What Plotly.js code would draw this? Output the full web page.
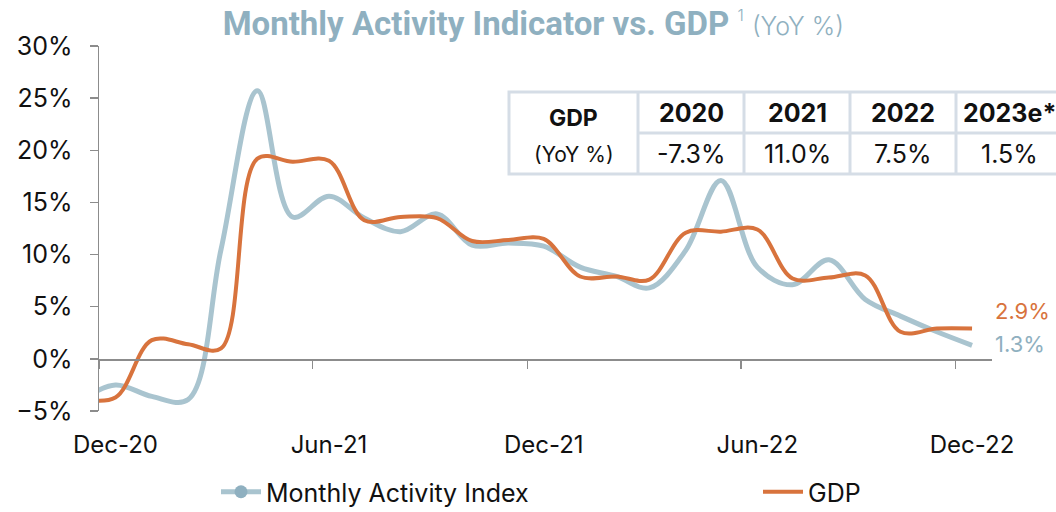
<!DOCTYPE html>
<html>
<head>
<meta charset="utf-8">
<script src="https://cdn.plot.ly/plotly-3.0.1.min.js"></script>
<style>
  html, body { margin: 0; padding: 0; background: #fff; }
  #chart { width: 1056px; height: 512px; }
</style>
</head>
<body>
<div id="chart"></div>
<script>
// ---- Data ----
var months = ['2020-11-15','2020-12-15','2021-01-15','2021-02-15','2021-03-15','2021-04-15','2021-05-15',
  '2021-06-15','2021-07-15','2021-08-15','2021-09-15','2021-10-15','2021-11-15','2021-12-15',
  '2022-01-15','2022-02-15','2022-03-15','2022-04-15','2022-05-15','2022-06-15','2022-07-15',
  '2022-08-15','2022-09-15','2022-10-15','2022-11-15','2022-12-15'];
var activityIndex = [-4.0,-2.5,-3.6,-3.9,10.5,25.7,13.6,15.6,13.5,12.2,13.9,10.9,11.1,10.8,
  8.8,7.9,6.8,10.4,17.1,8.8,7.1,9.5,5.7,4.1,2.6,1.3];
var gdp = [-3.8,-3.7,1.8,1.4,1.0,19.2,18.9,19.0,13.3,13.6,13.5,11.3,11.4,11.5,
  7.9,7.9,7.6,12.1,12.2,12.4,7.7,7.8,8.0,2.6,2.9,2.9];
var tickMarkDates = ['2020-12-01','2021-06-01','2021-12-01','2022-06-01','2022-12-01'];
var tickLabelDates = ['2020-12-15','2021-06-15','2021-12-15','2022-06-15','2022-12-15'];
var tickLabels = ['Dec-20','Jun-21','Dec-21','Jun-22','Dec-22'];
var tableYears = ['2020','2021','2022','2023e*'];
var tableGdp = ['-7.3%','11.0%','7.5%','1.5%'];

// ---- Styles ----
var FONT = 'Inter, Roboto, sans-serif';
var C_MAI = '#a9c4cf';
var C_MAI_DARK = '#8fb0c0';
var C_GDP = '#d8733d';
var C_AXIS = '#8c8c8c';
var C_GRID = '#d5dde6';

// plot area in pixels (for table placement)
var L = 99, R = 992, T = 46, B = 411;
function px(x) { return (x - L) / (R - L); }
function py(y) { return (B - y) / (B - T); }

var traces = [
  { x: months, y: activityIndex, type: 'scatter', mode: 'lines', name: 'Monthly Activity Index',
    line: { color: C_MAI, width: 5, shape: 'spline', smoothing: 1 }, showlegend: false, hoverinfo: 'skip' },
  { x: [null], y: [null], type: 'scatter', mode: 'lines+markers', name: 'Monthly Activity Index',
    line: { color: C_MAI, width: 5 }, marker: { color: C_MAI_DARK, size: 13 }, xaxis: 'x2', legend: 'legend' },
  { x: months, y: gdp, type: 'scatter', mode: 'lines', name: 'GDP', legend: 'legend2',
    line: { color: C_GDP, width: 4, shape: 'spline', smoothing: 1 }, hoverinfo: 'skip' }
];

var shapes = [];
var annotations = [];
var tL = 509, tR = 1062, tT = 92, tB = 174, tMid = 133;
var colEdges = [509, 638, 744, 850, 956, 1062];
var lineStyle = { color: C_GRID, width: 3 };
shapes.push({ type: 'rect', xref: 'paper', yref: 'paper', x0: px(tL), x1: px(tR), y0: py(tB), y1: py(tT), line: lineStyle });
for (var i = 1; i < colEdges.length - 1; i++) {
  shapes.push({ type: 'line', xref: 'paper', yref: 'paper', x0: px(colEdges[i]), x1: px(colEdges[i]), y0: py(tB), y1: py(tT), line: lineStyle });
}
shapes.push({ type: 'line', xref: 'paper', yref: 'paper', x0: px(colEdges[1]), x1: px(tR), y0: py(tMid), y1: py(tMid), line: lineStyle });

annotations.push({ xref: 'paper', yref: 'paper', x: px((colEdges[0] + colEdges[1]) / 2), y: py(118), text: '<b>GDP</b>',
  showarrow: false, xanchor: 'center', yanchor: 'middle', font: { family: FONT, size: 23, color: '#111' } });
annotations.push({ xref: 'paper', yref: 'paper', x: px((colEdges[0] + colEdges[1]) / 2), y: py(154), text: '(YoY %)',
  showarrow: false, xanchor: 'center', yanchor: 'middle', font: { family: FONT, size: 21, color: '#111' } });
for (var j = 0; j < tableYears.length; j++) {
  var cx = (colEdges[j + 1] + colEdges[j + 2]) / 2;
  annotations.push({ xref: 'paper', yref: 'paper', x: px(cx), y: py(113), text: '<b>' + tableYears[j] + '</b>',
    showarrow: false, xanchor: 'center', yanchor: 'middle', font: { family: FONT, size: 25, color: '#111' } });
  annotations.push({ xref: 'paper', yref: 'paper', x: px(cx), y: py(154), text: tableGdp[j],
    showarrow: false, xanchor: 'center', yanchor: 'middle', font: { family: FONT, size: 25, color: '#111' } });
}

// end labels
var last = months.length - 1;
annotations.push({ x: months[last], y: gdp[last], text: gdp[last].toFixed(1) + '%', showarrow: false,
  xanchor: 'left', yanchor: 'middle', xshift: 21, yshift: 18, font: { family: FONT, size: 22, color: C_GDP } });
annotations.push({ x: months[last], y: activityIndex[last], text: activityIndex[last].toFixed(1) + '%', showarrow: false,
  xanchor: 'left', yanchor: 'middle', xshift: 21, yshift: 1, font: { family: FONT, size: 22, color: C_MAI_DARK } });

var legendFont = { family: FONT, size: 25, color: '#111' };
var layout = {
  width: 1056, height: 512,
  margin: { l: L, r: 1056 - R, t: T, b: 512 - B, pad: 0, autoexpand: false },
  paper_bgcolor: '#fff', plot_bgcolor: '#fff',
  title: {
    text: 'Monthly Activity Indicator vs. GDP <sup><span style="font-size:16px;font-weight:300;font-family:Inter">1</span></sup> <span style="font-size:25px;font-weight:300;font-family:Inter">(YoY %)</span>',
    font: { family: 'Liberation Sans Narrow, Roboto, sans-serif', size: 33, color: C_MAI_DARK, weight: 700 },
    x: 0.505, xanchor: 'center', xref: 'container', y: 0.955, yanchor: 'middle', yref: 'container'
  },
  xaxis: {
    type: 'date', range: ['2020-12-01', '2023-01-01'], tickvals: tickLabelDates, ticktext: tickLabels,
    showgrid: false, zeroline: false, showline: false, ticks: '', ticklabelstandoff: 17,
    tickfont: { family: FONT, size: 24, color: '#111' }
  },
  xaxis2: {
    type: 'date', range: ['2020-12-01', '2023-01-01'], tickvals: tickMarkDates, overlaying: 'x', anchor: 'free',
    position: py(359), showgrid: false, zeroline: false, showline: true, linecolor: C_AXIS, linewidth: 1.5,
    ticks: 'outside', ticklen: 8, tickwidth: 1.5, tickcolor: C_AXIS, showticklabels: false
  },
  yaxis: {
    range: [-5, 30], dtick: 5, ticksuffix: '%', showgrid: false, zeroline: false,
    showline: true, linecolor: C_AXIS, linewidth: 1.5, ticks: 'outside', ticklen: 8, tickwidth: 1.5, tickcolor: C_AXIS,
    ticklabelstandoff: 12, tickfont: { family: FONT, size: 25, color: '#111' }
  },
  legend: {
    orientation: 'h', x: px(216), xanchor: 'left', y: py(492), yanchor: 'middle',
    font: legendFont, itemwidth: 40, bgcolor: 'rgba(0,0,0,0)'
  },
  legend2: {
    orientation: 'h', x: px(758), xanchor: 'left', y: py(492), yanchor: 'middle',
    font: legendFont, itemwidth: 40, bgcolor: 'rgba(0,0,0,0)'
  },
  shapes: shapes,
  annotations: annotations,
  showlegend: true
};

Plotly.newPlot('chart', traces, layout, { displayModeBar: false, staticPlot: true });
</script>
</body>
</html>
